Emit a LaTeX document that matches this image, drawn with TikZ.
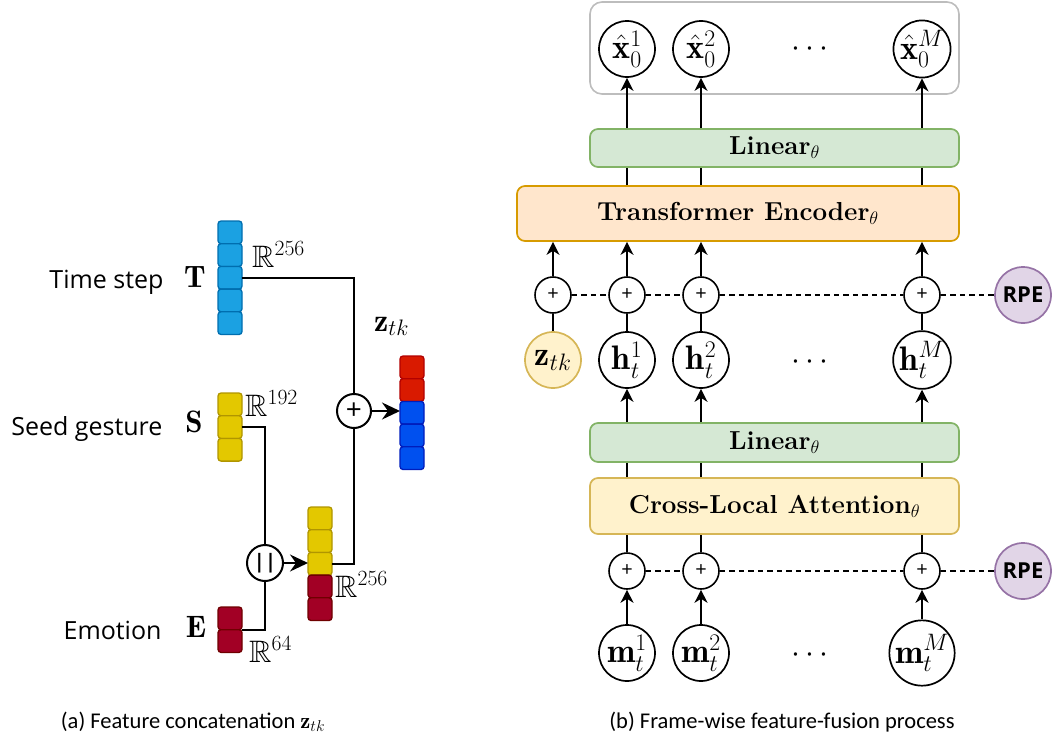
\RequirePackage{fix-cm}
\documentclass[tikz,border=0pt]{standalone}
\usepackage{amssymb}
\usepackage{fontspec}
\newfontfamily\osans{Open Sans}
\newfontfamily\capfont{Carlito}
\usetikzlibrary{arrows.meta}
\definecolor{tfill}{HTML}{1BA1E2}\definecolor{tdraw}{HTML}{006EAF}
\definecolor{yfill}{HTML}{E3C800}\definecolor{ydraw}{HTML}{B09500}
\definecolor{dfill}{HTML}{A20025}\definecolor{ddraw}{HTML}{6F0000}
\definecolor{rfill}{HTML}{D91A00}\definecolor{rdraw}{HTML}{B20000}
\definecolor{cfill}{HTML}{0050EF}\definecolor{cdraw}{HTML}{001DBC}
\definecolor{gfill}{HTML}{D5E8D4}\definecolor{gdraw}{HTML}{82B366}
\definecolor{ofill}{HTML}{FFE6CC}\definecolor{odraw}{HTML}{D79B00}
\definecolor{lyfill}{HTML}{FFF2CC}\definecolor{lydraw}{HTML}{D6B656}
\definecolor{pfill}{HTML}{E1D5E7}\definecolor{pdraw}{HTML}{9673A6}
\definecolor{gray1}{HTML}{BDBDBD}
\begin{document}
\begin{tikzpicture}[x=1pt,y=-1pt,
  wire/.style={line width=1.7pt},
  arr/.style={line width=1.7pt,-{Stealth[length=13pt,width=13pt,inset=4pt]}},
  larr/.style={line width=2pt,-{Stealth[length=18pt,width=17pt,inset=6pt]}},
  circ/.style={circle,draw,line width=1.7pt,minimum size=56pt,inner sep=0pt,fill=white,font=\fontsize{34}{38}\selectfont},
  addc/.style={circle,draw,line width=1.6pt,minimum size=36pt,inner sep=0pt,fill=white,font=\osans\fontsize{20}{20}\selectfont},
  laddc/.style={circle,draw,line width=2pt,minimum size=34pt,inner sep=0pt,fill=white},
  blk/.style={rectangle,rounded corners=8pt,line width=1.7pt,inner sep=0pt,font=\fontsize{26}{30}\selectfont\bfseries},
  rpe/.style={circle,minimum size=56pt,fill=pfill,draw=pdraw,line width=1.7pt,inner sep=0pt,font=\osans\bfseries\fontsize{22}{22}\selectfont},
  dline/.style={line width=1.3pt,dash pattern=on 5.5pt off 4pt},
  cell/.style={rounded corners=3pt,line width=1.3pt},
  colbox/.style={rectangle,inner sep=0pt,minimum width=24pt,anchor=north west},
  lbl/.style={font=\osans\fontsize{25}{28}\selectfont},
  mlbl/.style={font=\fontsize{31}{35}\selectfont},
  rlbl/.style={font=\fontsize{32}{36}\selectfont}
]
\useasboundingbox (0,0) rectangle (1052,744);

% ---------------- left panel ----------------
\node[colbox,minimum height=113.5pt] (Tcol) at (218,221) {};
\foreach \i in {0,...,4} \draw[cell,fill=tfill,draw=tdraw] (218,221+\i*22.7) rectangle ++(24,22.7);
\node[colbox,minimum height=68.1pt] (Scol) at (218,393) {};
\foreach \i in {0,...,2} \draw[cell,fill=yfill,draw=ydraw] (218,393+\i*22.7) rectangle ++(24,22.7);
\node[colbox,minimum height=45.4pt] (Ecol) at (218,607) {};
\foreach \i in {0,1} \draw[cell,fill=dfill,draw=ddraw] (218,607+\i*22.7) rectangle ++(24,22.7);
\node[colbox,minimum height=113.5pt] (Ccol) at (308,507) {};
\foreach \i in {0,...,2} \draw[cell,fill=yfill,draw=ydraw] (308,507+\i*22.7) rectangle ++(24,22.7);
\foreach \i in {3,4} \draw[cell,fill=dfill,draw=ddraw] (308,507+\i*22.7) rectangle ++(24,22.7);
\node[colbox,minimum height=113.5pt] (Zcol) at (400,356) {};
\foreach \i in {0,1} \draw[cell,fill=rfill,draw=rdraw] (400,356+\i*22.7) rectangle ++(24,22.7);
\foreach \i in {2,3,4} \draw[cell,fill=cfill,draw=cdraw] (400,356+\i*22.7) rectangle ++(24,22.7);

\node[laddc,font=\osans\fontsize{28}{28}\selectfont] (addL) at (354,411) {+};
\node[laddc,minimum size=36pt,font=\osans\bfseries\fontsize{20}{20}\selectfont] (cat) at (265,563) {||};

\node[lbl,anchor=base east] (tT) at (167,288) {Time step};
\node[lbl,anchor=base east] (tS) at (166,435) {Seed gesture};
\node[lbl,anchor=base east] (tE) at (165,639) {Emotion};
\node[mlbl,anchor=base] (sT) at (195,287) {$\mathbf{T}$};
\node[mlbl,anchor=base] (sS) at (194,432) {$\mathbf{S}$};
\node[mlbl,anchor=base] (sE) at (196,637) {$\mathbf{E}$};
\node[mlbl,anchor=base west,inner sep=0pt] (rT) at (252,267) {$\mathbb{R}^{256}$};
\node[mlbl,anchor=base west,inner sep=0pt] (rS) at (245,416) {$\mathbb{R}^{192}$};
\node[mlbl,anchor=base west,inner sep=0pt] (rE) at (249,662) {$\mathbb{R}^{64}$};
\node[mlbl,anchor=base west,inner sep=0pt] (rC) at (335,597) {$\mathbb{R}^{256}$};
\node[rlbl,anchor=base west,inner sep=0pt] (zl) at (374,331) {$\mathbf{z}_{tk}$};

\draw[line width=2pt] (Tcol.east) -| (addL.north);
\draw[line width=2pt] (Scol.east) -| (cat.north);
\draw[line width=2pt] (Ecol.east) -| (cat.south);
\draw[line width=2pt] (Ccol.east) -| (addL.south);
\draw[larr] (cat.east) -- (Ccol.west |- cat.east);
\draw[larr] (addL.east) -- (Zcol.west |- addL.east);

% ---------------- right panel ----------------
\node[draw=gray1,line width=1.6pt,rounded corners=12pt,minimum width=369pt,minimum height=92pt,inner sep=0pt] (outbox) at (774.5,48) {};
\node[circ] (xh1) at (627,49) {$\hat{\mathbf{x}}_0^1$};
\node[circ] (xh2) at (701,49) {$\hat{\mathbf{x}}_0^2$};
\node[circ] (xhM) at (922,49) {$\hat{\mathbf{x}}_0^M$};
\node[rlbl] (d1) at (810,49) {$\cdots$};

\node[blk,fill=gfill,draw=gdraw,minimum width=369pt,minimum height=38pt] (lin2) at (774.5,148) {Linear$_\theta$};
\node[blk,fill=ofill,draw=odraw,minimum width=442pt,minimum height=55pt] (trans) at (738,213.5) {Transformer Encoder$_\theta$};

\node[addc] (addZ) at (553,295) {+};
\node[addc] (add1) at (627,295) {+};
\node[addc] (add2) at (701,295) {+};
\node[addc] (addM) at (922,295) {+};
\node[rpe] (rpe1) at (1023,295) {RPE};

\node[circ,fill=lyfill,draw=lydraw] (zt) at (553,360) {$\mathbf{z}_{tk}$};
\node[circ] (h1) at (627,360) {$\mathbf{h}_t^1$};
\node[circ] (h2) at (701,360) {$\mathbf{h}_t^2$};
\node[circ] (hM) at (922,360) {$\mathbf{h}_t^M$};
\node[rlbl] (d2) at (810,362) {$\cdots$};

\node[blk,fill=gfill,draw=gdraw,minimum width=369pt,minimum height=39pt] (lin1) at (774.5,442.5) {Linear$_\theta$};
\node[blk,fill=lyfill,draw=lydraw,minimum width=369pt,minimum height=56pt] (cla) at (774.5,506) {Cross-Local Attention$_\theta$};

\node[addc] (addm1) at (627,571) {+};
\node[addc] (addm2) at (701,571) {+};
\node[addc] (addmM) at (922,571) {+};
\node[rpe] (rpe2) at (1023,571) {RPE};

\node[circ] (m1) at (627,653) {$\mathbf{m}_t^1$};
\node[circ] (m2) at (701,653) {$\mathbf{m}_t^2$};
\node[circ] (mM) at (922,653) {$\mathbf{m}_t^M$};
\node[rlbl] (d3) at (810,655) {$\cdots$};

% connectors
\foreach \a/\b/\h/\x/\m in {addm1/m1/h1/xh1/add1, addm2/m2/h2/xh2/add2, addmM/mM/hM/xhM/addM}{
  \draw[arr] (\b.north) -- (\a.south);
  \draw[wire] (\a.north) -- (\a |- cla.south);
  \draw[wire] (\a |- cla.north) -- (\a |- lin1.south);
  \draw[arr] (\a |- lin1.north) -- (\h.south);
  \draw[wire] (\h.north) -- (\m.south);
  \draw[arr] (\m.north) -- (\m |- trans.south);
  \draw[wire] (\m |- trans.north) -- (\m |- lin2.south);
  \draw[arr] (\m |- lin2.north) -- (\x.south);
}
\draw[wire] (zt.north) -- (addZ.south);
\draw[arr] (addZ.north) -- (addZ |- trans.south);

\draw[dline] (addZ.east) -- (add1.west);
\draw[dline] (add1.east) -- (add2.west);
\draw[dline] (add2.east) -- (addM.west);
\draw[dline] (addM.east) -- (rpe1.west);
\draw[dline] (addm1.east) -- (addm2.west);
\draw[dline] (addm2.east) -- (addmM.west);
\draw[dline] (addmM.east) -- (rpe2.west);

% captions
\node[font=\capfont\fontsize{22.5}{25}\selectfont] (capa) at (193,722) {(a) Feature concatenation $\mathbf{z}_{tk}$};
\node[font=\capfont\fontsize{22.5}{25}\selectfont] (capb) at (782,722) {(b) Frame-wise feature-fusion process};
\end{tikzpicture}
\end{document}
